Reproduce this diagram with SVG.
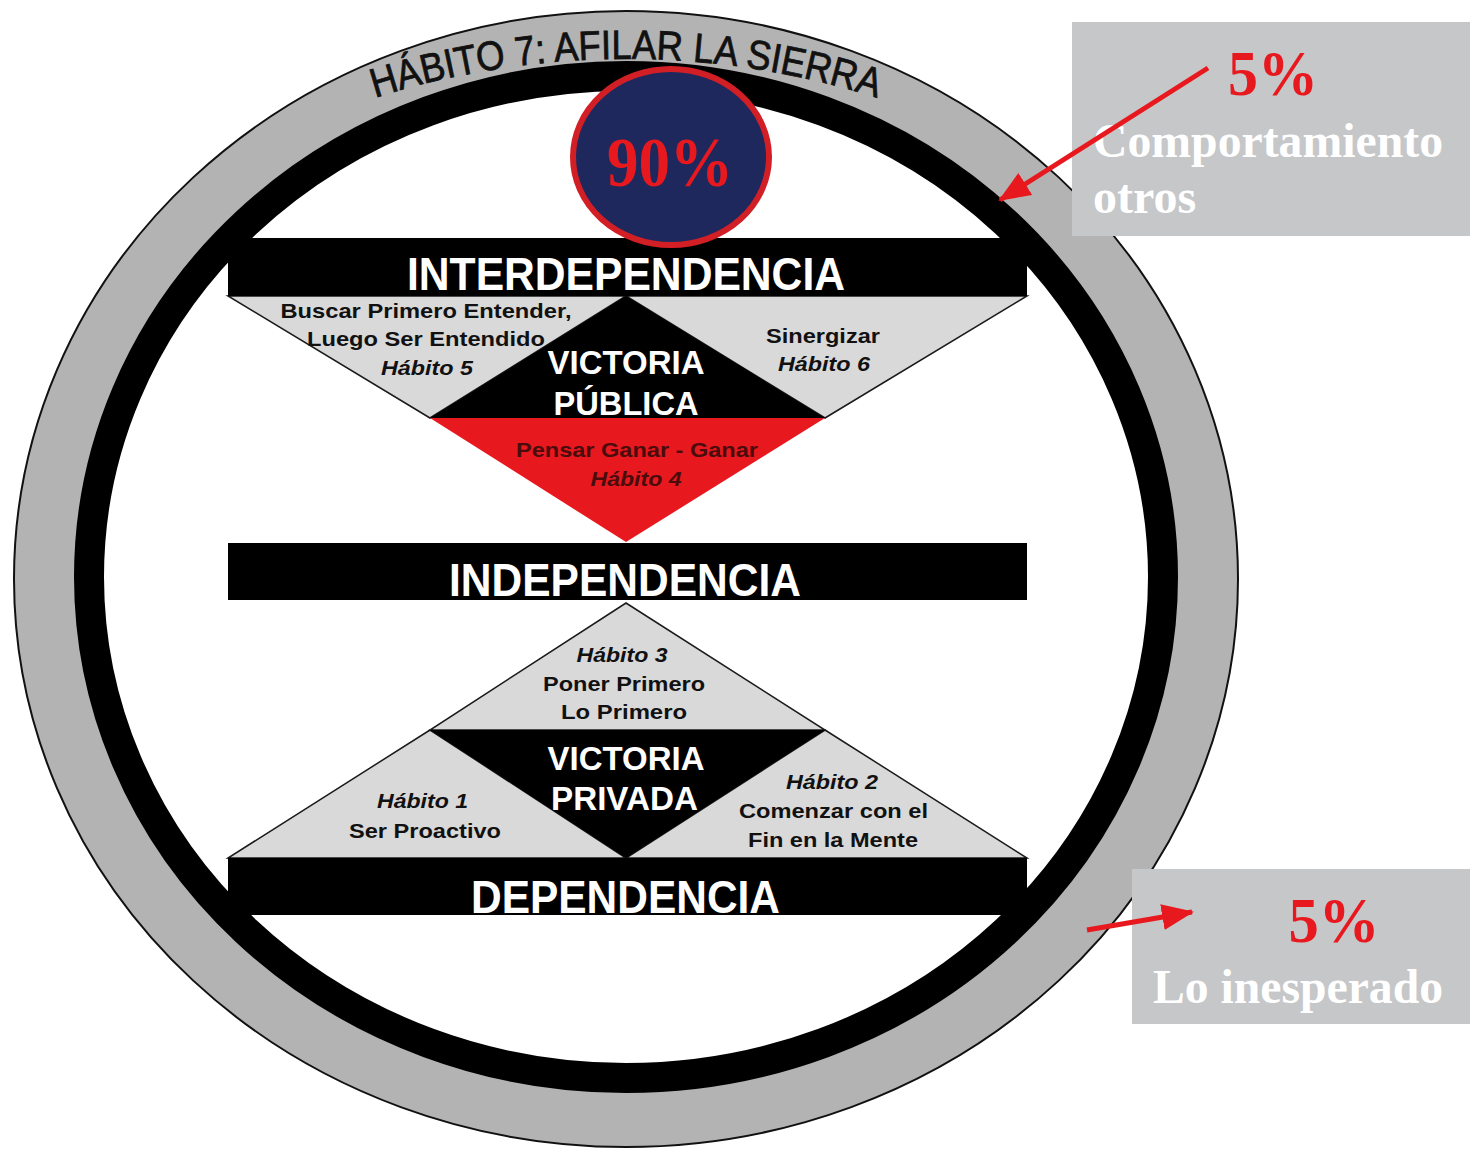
<svg xmlns="http://www.w3.org/2000/svg" width="1470" height="1150" viewBox="0 0 1470 1150">
<style>
.lbl{font-family:"Liberation Sans",Arial,sans-serif;font-weight:bold;font-size:21px;fill:#111;text-anchor:middle}
.it{font-style:italic}
.big{font-family:"Liberation Sans",Arial,sans-serif;font-weight:bold;fill:#fff;text-anchor:middle}
.tri{fill:#d9d9d9;stroke:#1a1a1a;stroke-width:1.5}
.band{fill:#000}
.ser{font-family:"Liberation Serif","Times New Roman",serif;font-weight:bold}
.pct{fill:#e8191e}
.wht{fill:#fff}
.box{fill:#c6c7c9}
</style>
<defs>
<path id="arcPath" d="M 326 115 A 830 830 0 0 1 926 115"/>
<marker id="ah" markerUnits="userSpaceOnUse" markerWidth="34" markerHeight="26" refX="30" refY="13" orient="auto">
<path d="M0,0 L32,13 L0,26 Z" fill="#e8191e"/>
</marker>
</defs>
<rect width="1470" height="1150" fill="#fff"/>

<g id="ring">
<ellipse cx="626" cy="579" rx="612" ry="568" fill="#b3b3b3" stroke="#111" stroke-width="2"/>
<ellipse cx="626" cy="577" rx="537" ry="501" fill="#fff" stroke="#000" stroke-width="30"/>
<text font-family="'Liberation Sans',Arial,sans-serif" font-size="41" fill="#111" stroke="#111" stroke-width="0.8"><textPath href="#arcPath" startOffset="50%" text-anchor="middle" textLength="510" lengthAdjust="spacingAndGlyphs">HÁBITO 7: AFILAR LA SIERRA</textPath></text>
</g>

<g id="victoria-publica">
<polygon class="tri" points="228,296 626,296 430,418"/>
<polygon class="tri" points="626,296 1027,296 825,418"/>
<polygon points="626,296 825,418 430,418" fill="#000"/>
<polygon points="430,418 825,418 626,542" fill="#e8191e"/>
<text class="lbl" x="426" y="318" textLength="291" lengthAdjust="spacingAndGlyphs">Buscar Primero Entender,</text>
<text class="lbl" x="426" y="346" textLength="238" lengthAdjust="spacingAndGlyphs">Luego Ser Entendido</text>
<text class="lbl it" x="427" y="375" textLength="92" lengthAdjust="spacingAndGlyphs">Hábito 5</text>
<text class="lbl" x="823" y="343" textLength="114" lengthAdjust="spacingAndGlyphs">Sinergizar</text>
<text class="lbl it" x="824" y="371" textLength="92" lengthAdjust="spacingAndGlyphs">Hábito 6</text>
<text class="big" x="626" y="374" font-size="34" textLength="157" lengthAdjust="spacingAndGlyphs">VICTORIA</text>
<text class="big" x="626" y="415" font-size="34" textLength="145" lengthAdjust="spacingAndGlyphs">PÚBLICA</text>
<text class="lbl" x="637" y="457" style="fill:#4a0c0c" textLength="242" lengthAdjust="spacingAndGlyphs">Pensar Ganar - Ganar</text>
<text class="lbl it" x="636" y="486" style="fill:#4a0c0c" textLength="91" lengthAdjust="spacingAndGlyphs">Hábito 4</text>
</g>

<g id="interdependencia">
<rect class="band" x="228" y="238" width="799" height="58"/>
<text class="big" x="626" y="290" font-size="46" textLength="438" lengthAdjust="spacingAndGlyphs">INTERDEPENDENCIA</text>
</g>

<g id="independencia">
<rect class="band" x="228" y="543" width="799" height="57"/>
<text class="big" x="625" y="596" font-size="46" textLength="352" lengthAdjust="spacingAndGlyphs">INDEPENDENCIA</text>
</g>

<g id="victoria-privada">
<polygon class="tri" points="626,603 825,730 430,730"/>
<polygon class="tri" points="430,730 626,858 228,858"/>
<polygon class="tri" points="825,730 1027,858 626,858"/>
<polygon points="430,730 825,730 626,858" fill="#000"/>
<text class="lbl it" x="622" y="662" textLength="91" lengthAdjust="spacingAndGlyphs">Hábito 3</text>
<text class="lbl" x="624" y="691" textLength="162" lengthAdjust="spacingAndGlyphs">Poner Primero</text>
<text class="lbl" x="624" y="719" textLength="126" lengthAdjust="spacingAndGlyphs">Lo Primero</text>
<text class="big" x="626" y="770" font-size="34" textLength="157" lengthAdjust="spacingAndGlyphs">VICTORIA</text>
<text class="big" x="624.5" y="810" font-size="34" textLength="147" lengthAdjust="spacingAndGlyphs">PRIVADA</text>
<text class="lbl it" x="422.5" y="808" textLength="91" lengthAdjust="spacingAndGlyphs">Hábito 1</text>
<text class="lbl" x="425" y="838" textLength="152" lengthAdjust="spacingAndGlyphs">Ser Proactivo</text>
<text class="lbl it" x="832" y="789" textLength="92" lengthAdjust="spacingAndGlyphs">Hábito 2</text>
<text class="lbl" x="833.5" y="818" textLength="189" lengthAdjust="spacingAndGlyphs">Comenzar con el</text>
<text class="lbl" x="833" y="847" textLength="170" lengthAdjust="spacingAndGlyphs">Fin en la Mente</text>
</g>

<g id="dependencia">
<rect class="band" x="228" y="858" width="799" height="57"/>
<text class="big" x="625.5" y="913" font-size="46" textLength="309" lengthAdjust="spacingAndGlyphs">DEPENDENCIA</text>
</g>

<g id="pct90">
<ellipse cx="671" cy="157" rx="98" ry="88" fill="#1e285c" stroke="#d21f26" stroke-width="6"/>
<text class="ser pct" x="670" y="186" font-size="70" text-anchor="middle" textLength="126" lengthAdjust="spacingAndGlyphs">90%</text>
</g>

<g id="box-otros">
<rect class="box" x="1072" y="22" width="398" height="214"/>
<text class="ser pct" x="1273" y="95" font-size="64" text-anchor="middle" textLength="90" lengthAdjust="spacingAndGlyphs">5%</text>
<text class="ser wht" x="1093" y="157" font-size="48" textLength="350" lengthAdjust="spacingAndGlyphs">Comportamiento</text>
<text class="ser wht" x="1093" y="213" font-size="48">otros</text>
</g>

<g id="box-inesperado">
<rect class="box" x="1132" y="869" width="338" height="155"/>
<text class="ser pct" x="1334" y="942" font-size="64" text-anchor="middle" textLength="91" lengthAdjust="spacingAndGlyphs">5%</text>
<text class="ser wht" x="1298" y="1003" font-size="48" text-anchor="middle" textLength="290" lengthAdjust="spacingAndGlyphs">Lo inesperado</text>
</g>

<g id="connectors">
<line x1="1208" y1="68" x2="1000" y2="200" stroke="#e8191e" stroke-width="5" marker-end="url(#ah)"/>
<line x1="1087" y1="930" x2="1192" y2="912" stroke="#e8191e" stroke-width="5" marker-end="url(#ah)"/>
</g>
</svg>
